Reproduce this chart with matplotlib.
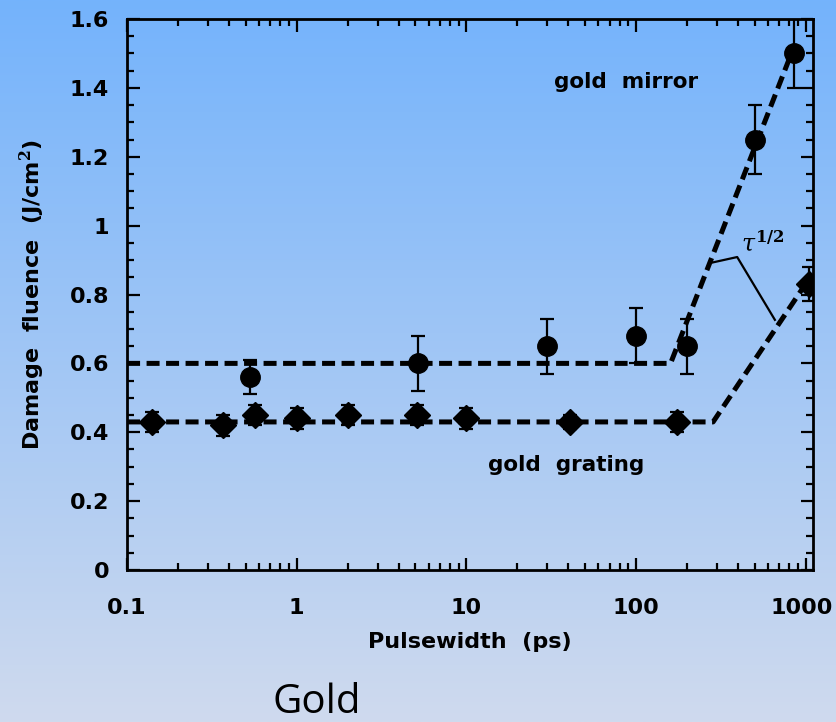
import numpy as np
import matplotlib
matplotlib.use("Agg")
import matplotlib.pyplot as plt
from matplotlib.ticker import LogLocator, MultipleLocator, FixedLocator, NullFormatter

# ---- data ----
mirror_x = [0.53, 5.2, 30, 100, 200, 500, 860]
mirror_y = [0.56, 0.60, 0.65, 0.68, 0.65, 1.25, 1.50]
mirror_err = [0.05, 0.08, 0.08, 0.08, 0.08, 0.10, 0.10]

grating_x = [0.14, 0.37, 0.57, 1.0, 2.0, 5.1, 10, 41, 175, 1050]
grating_y = [0.43, 0.42, 0.45, 0.44, 0.45, 0.45, 0.44, 0.43, 0.43, 0.83]
grating_err = [0.03, 0.03, 0.03, 0.03, 0.03, 0.03, 0.03, 0.02, 0.03, 0.05]

mirror_fit_x = [0.1, 160, 810]
mirror_fit_y = [0.60, 0.60, 1.49]
grating_fit_x = [0.1, 285, 1030]
grating_fit_y = [0.43, 0.43, 0.84]

x_ticks = [0.1, 1, 10, 100, 1000]
x_ticklabels = ["0.1", "1", "10", "100", "1000"]
y_ticks = [0, 0.2, 0.4, 0.6, 0.8, 1.0, 1.2, 1.4, 1.6]
y_ticklabels = ["0", "0.2", "0.4", "0.6", "0.8", "1", "1.2", "1.4", "1.6"]

plt.rcParams["mathtext.fontset"] = "dejavuserif"

fig = plt.figure(figsize=(8.36, 7.22), dpi=100)

# gradient background
bg = fig.add_axes([0, 0, 1, 1], zorder=-10)
top = np.array([116, 179, 252]) / 255.0
bot = np.array([207, 218, 238]) / 255.0
t = np.linspace(0, 1, 256)[:, None]
grad = top[None, :] * (1 - t) + bot[None, :] * t
bg.imshow(grad[:, None, :], aspect="auto", extent=[0, 1, 0, 1])
bg.axis("off")

ax = fig.add_axes([0.152, 0.2105, 0.820, 0.7632])
ax.patch.set_alpha(0)

fam = "DejaVu Sans"
dash = (0, (2.6, 1.3))

ax.plot(mirror_fit_x, mirror_fit_y, color="black", lw=3.6, ls=dash, zorder=2)
ax.plot(grating_fit_x, grating_fit_y, color="black", lw=3.6, ls=dash, zorder=2)

ax.errorbar(mirror_x, mirror_y, yerr=mirror_err, fmt="o", color="black", ms=14,
            elinewidth=1.6, capsize=5, capthick=1.6, zorder=3)
ax.errorbar(grating_x, grating_y, yerr=grating_err, fmt="D", color="black", ms=13,
            elinewidth=1.6, capsize=5, capthick=1.6, zorder=3)

ax.set_xscale("log")
ax.set_xlim(0.1, 1100)
ax.set_ylim(0, 1.6)

ax.xaxis.set_major_locator(FixedLocator(x_ticks))
ax.set_xticklabels(x_ticklabels)
ax.xaxis.set_minor_locator(LogLocator(base=10, subs=np.arange(2, 10)))
ax.xaxis.set_minor_formatter(NullFormatter())
ax.set_yticks(y_ticks)
ax.set_yticklabels(y_ticklabels)
ax.yaxis.set_minor_locator(MultipleLocator(0.05))

ax.tick_params(which="both", direction="in", top=True, right=True, width=1.6)
ax.tick_params(which="major", length=9)
ax.tick_params(which="minor", length=5)
ax.tick_params(axis="x", which="major", pad=20)
ax.tick_params(axis="y", which="major", pad=13)
for lab in ax.get_xticklabels() + ax.get_yticklabels():
    lab.set_fontfamily(fam)
    lab.set_fontweight("bold")
    lab.set_fontsize(16)
# keep the last x label inside the figure, as in the reference
ax.get_xticklabels()[-1].set_horizontalalignment("right")
ax.get_xticklabels()[-1].set_x(1000)
lab1000 = ax.get_xticklabels()[-1]
from matplotlib.transforms import offset_copy
lab1000.set_transform(offset_copy(lab1000.get_transform(), fig=fig, x=27, y=0, units="dots"))

for s in ax.spines.values():
    s.set_linewidth(2)

ax.set_xlabel("Pulsewidth  (ps)", fontfamily=fam, fontweight="bold", fontsize=16, labelpad=10)
ax.set_ylabel("Damage  fluence  (J/cm$^\\mathsf{\\mathbf{2}}$)", fontfamily=fam, fontweight="bold",
              fontsize=16, labelpad=16)

ax.text(0.728, 0.885, "gold  mirror", transform=ax.transAxes, ha="center", va="center",
        fontfamily=fam, fontweight="bold", fontsize=15.5)
ax.text(0.640, 0.190, "gold  grating", transform=ax.transAxes, ha="center", va="center",
        fontfamily=fam, fontweight="bold", fontsize=15.5)

ax.text(0.928, 0.592, r"$\tau^{\mathbf{1/2}}$", transform=ax.transAxes, ha="center",
        va="center", fontsize=17)

# bracket
bx = [0.850, 0.890, 0.945]
by = [0.557, 0.568, 0.454]
ax.plot(bx, by, transform=ax.transAxes, color="black", lw=1.6, zorder=4)

fig.text(0.379, 0.012, "Gold", ha="center", va="baseline", fontfamily="Open Sans", fontsize=29)

fig.savefig("out.png", dpi=100)
